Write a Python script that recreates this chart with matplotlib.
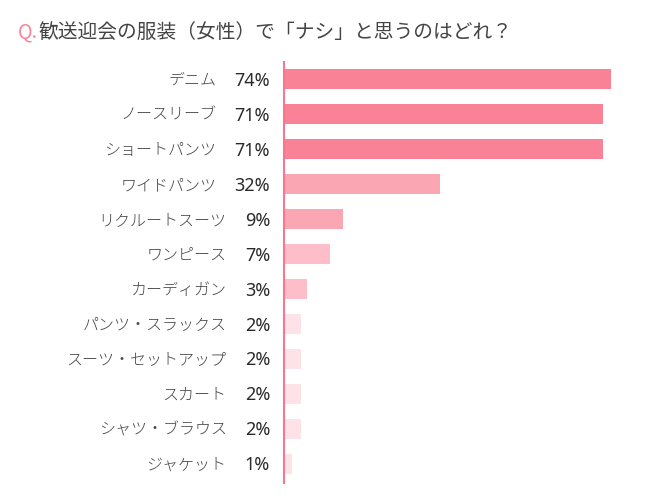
import matplotlib
matplotlib.use('Agg')
import matplotlib.pyplot as plt

plt.rcParams['font.family'] = ['Noto Sans CJK JP', 'DejaVu Sans']

# 項目と表示パーセント
items = ['デニム', 'ノースリーブ', 'ショートパンツ', 'ワイドパンツ', 'リクルートスーツ',
         'ワンピース', 'カーディガン', 'パンツ・スラックス', 'スーツ・セットアップ',
         'スカート', 'シャツ・ブラウス', 'ジャケット']
pcts = [74, 71, 71, 32, 9, 7, 3, 2, 2, 2, 2, 1]
# 棒の長さ（画像から読み取り、74%の棒=74 の単位）
bar_len = [74, 72.0, 72.0, 35.2, 13.3, 10.4, 5.3, 3.8, 3.8, 3.8, 3.8, 1.9]

PINK = '#FA8296'
colors = [PINK, PINK, PINK, '#FBA6B3', '#FBA6B3', '#FDBDC9', '#FDBDC9',
          '#FDE3E8', '#FDE3E8', '#FDE3E8', '#FDE3E8', '#FDE3E8']

fig = plt.figure(figsize=(6.5, 5), dpi=100)
ax = fig.add_axes([284/650, 17/500, 356/650, 421/500])

y = list(range(len(items)))
ax.barh(y, bar_len, height=0.57, color=colors, lw=0)
ax.set_xlim(0, 356/4.424)
ax.set_ylim(11.543, -0.486)
ax.set_xticks([])
ax.set_yticks([])

for s in ['top', 'right', 'bottom']:
    ax.spines[s].set_visible(False)
ax.spines['left'].set_color('#F7788E')
ax.spines['left'].set_linewidth(1.5)

# ラベル：パーセントは右揃え、項目名はその左に
fig.canvas.draw()
r = fig.canvas.get_renderer()
for yi, name, p in zip(y, items, pcts):
    yy = (ax.transData.transform((0, yi))[1] - 1.5) / 500
    t = fig.text(270/650, yy, f'{p}%', fontsize=13, color='#2a2a2a',
                 family=['Noto Sans', 'DejaVu Sans'], ha='right', va='center')
    bb = t.get_window_extent(r)
    fig.text((bb.x0 - 18) / 650, yy, name, fontsize=11.5, color='#444444',
             fontweight='light', ha='right', va='center')

fig.text(18/650, 1 - 32/500, 'Q.', color='#F7869A', fontsize=14.2, va='center', ha='left')
fig.text(39/650, 1 - 32/500, '歓送迎会の服装（女性）で「ナシ」と思うのはどれ？',
         color='#444444', fontsize=14.2, va='center', ha='left')

fig.savefig('out.png', dpi=100)
